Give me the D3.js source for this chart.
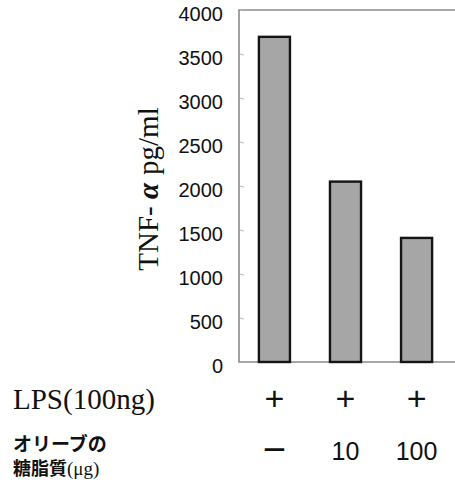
<!DOCTYPE html>
<html>
<head>
<meta charset="utf-8">
<script src="https://cdn.jsdelivr.net/npm/d3@7"></script>
<style>
  body { margin: 0; background: #fff; }
  svg { display: block; }
</style>
</head>
<body>
<svg id="chart" width="455" height="487"></svg>
<script>
// data
const groups   = ["g1", "g2", "g3"];
const tnfAlpha = [3695, 2050, 1410];
const lpsRow   = ["+", "+", "+"];
const doseRow  = ["\u2212", "10", "100"];
const yTicks   = [0, 500, 1000, 1500, 2000, 2500, 3000, 3500, 4000];

const svg = d3.select("#chart");

// plot box
const plotLeft = 239, plotTop = 10, plotBottom = 362, plotRight = 452;

const xScale = d3.scaleBand()
  .domain(groups)
  .range([plotLeft, plotRight])
  .paddingInner(0.563)
  .paddingOuter(0.28);

const yScale = d3.scaleLinear()
  .domain([0, 4000])
  .range([plotBottom, plotTop]);

// frame (left, top, bottom lines)
svg.append("path")
  .attr("d", `M460,${plotTop}H${plotLeft}V${plotBottom}H460`)
  .attr("stroke", "#8a8a8a")
  .attr("stroke-width", 1.6)
  .attr("fill", "none");

// y axis: labels outside, no domain
const yAxis = d3.axisLeft(yScale)
  .tickValues(yTicks)
  .tickFormat(d3.format("d"))
  .tickSize(0)
  .tickPadding(16);

const gY = svg.append("g")
  .attr("transform", "translate(" + plotLeft + ",0)")
  .call(yAxis);
gY.select(".domain").remove();
gY.selectAll("text")
  .attr("dy", "0.32em")
  .attr("y", 4)
  .attr("font-family", "'Liberation Sans', Arial, sans-serif")
  .attr("font-size", 20)
  .attr("fill", "#111");

// light inner tick marks
svg.append("g").selectAll("line")
  .data(yTicks.filter(d => d > 0))
  .join("line")
  .attr("x1", plotLeft + 1)
  .attr("x2", plotLeft + 5)
  .attr("y1", d => yScale(d))
  .attr("y2", d => yScale(d) + 1)
  .attr("stroke", "#bbb")
  .attr("stroke-width", 1);

// bars
svg.append("g").selectAll("rect")
  .data(groups)
  .join("rect")
  .attr("x", d => xScale(d))
  .attr("width", xScale.bandwidth())
  .attr("y", (d, i) => yScale(tnfAlpha[i]))
  .attr("height", (d, i) => yScale(0) - yScale(tnfAlpha[i]))
  .attr("fill", "#a6a6a6")
  .attr("stroke", "#151515")
  .attr("stroke-width", 2.4);

// y title
const ttl = svg.append("text")
  .attr("transform", "translate(158,189)rotate(-90)")
  .attr("text-anchor", "middle")
  .attr("font-family", "'Liberation Serif', 'Times New Roman', serif")
  .attr("font-size", 29)
  .attr("fill", "#111");
ttl.append("tspan").text("TNF- ");
ttl.append("tspan").attr("font-weight", "bold").attr("font-style", "italic").text("\u03b1");
ttl.append("tspan").attr("dx", 8).text("pg/ml");

// row labels under the bars
const rows = svg.append("g")
  .attr("font-family", "'Liberation Sans', Arial, sans-serif")
  .attr("fill", "#111")
  .attr("text-anchor", "middle");

rows.selectAll("text.lps")
  .data(lpsRow)
  .join("text")
  .attr("class", "lps")
  .attr("x", (d, i) => xScale(groups[i]) + xScale.bandwidth() / 2)
  .attr("y", 410)
  .attr("font-size", 34)
  .text(d => d);

rows.selectAll("text.dose")
  .data(doseRow)
  .join("text")
  .attr("class", "dose")
  .attr("x", (d, i) => xScale(groups[i]) + xScale.bandwidth() / 2)
  .attr("y", (d, i) => i === 0 ? 463 : 460)
  .attr("font-size", (d, i) => i === 0 ? 40 : 25)
  .text(d => d);

// left-hand row captions
svg.append("text")
  .attr("x", 13)
  .attr("y", 409)
  .attr("font-family", "'Liberation Serif', 'Times New Roman', serif")
  .attr("font-size", 29)
  .attr("fill", "#111")
  .text("LPS(100ng)");

svg.append("text")
  .attr("x", 13)
  .attr("y", 451)
  .attr("font-family", "'Noto Sans CJK JP', sans-serif")
  .attr("font-weight", "bold")
  .attr("font-size", 19)
  .attr("fill", "#111")
  .text("オリーブの");

const sugar = svg.append("text")
  .attr("x", 13)
  .attr("y", 475)
  .attr("fill", "#111");
sugar.append("tspan")
  .attr("font-family", "'Noto Sans CJK JP', sans-serif")
  .attr("font-weight", "bold")
  .attr("font-size", 18)
  .text("糖脂質");
sugar.append("tspan")
  .attr("font-family", "'Liberation Serif', 'Times New Roman', serif")
  .attr("font-size", 19)
  .text("(\u03bcg)");
</script>
</body>
</html>
